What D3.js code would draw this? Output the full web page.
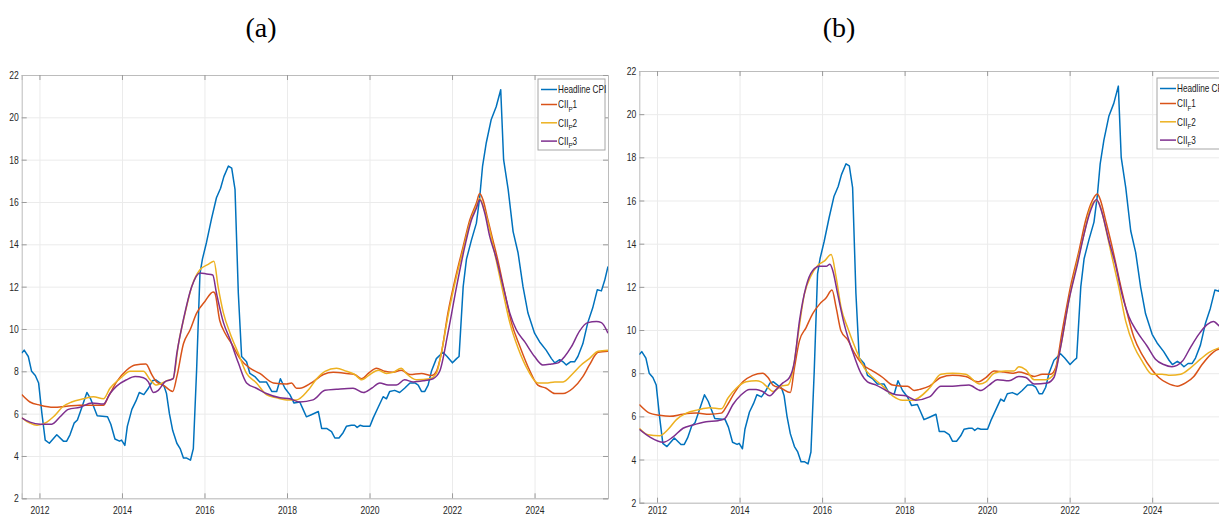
<!DOCTYPE html>
<html>
<head>
<meta charset="utf-8">
<script src="https://cdn.jsdelivr.net/npm/d3@7"></script>
<style>
  body { margin: 0; background: #fff; }
  svg { display: block; }
  .tick text { font-family: "Liberation Sans", Arial, sans-serif; font-size: 11px; fill: #262626; }
  .legend text { font-family: "Liberation Sans", Arial, sans-serif; font-size: 10.5px; fill: #1a1a1a; }
  .panel-title { font-family: "Liberation Serif", "Times New Roman", serif; font-size: 28px; fill: #000; }
</style>
</head>
<body>
<svg id="chart" width="1219" height="517"></svg>
<script>

// headline cpi (same in both panels), [decimal year, %]
const headlineCPI = [
  [2011.57, 8.86], [2011.63, 9.0], [2011.73, 8.7], [2011.81, 8.0], [2011.9, 7.8], [2011.98, 7.45],
  [2012.06, 6.0], [2012.14, 4.75], [2012.24, 4.6], [2012.42, 5.0], [2012.58, 4.7], [2012.66, 4.7],
  [2012.74, 5.0], [2012.84, 5.55], [2012.92, 5.7], [2013.01, 6.2], [2013.15, 7.0], [2013.24, 6.7],
  [2013.4, 5.9], [2013.65, 5.85], [2013.73, 5.5], [2013.83, 4.8], [2013.94, 4.7], [2013.99, 4.75],
  [2014.07, 4.5], [2014.13, 5.4], [2014.24, 6.2], [2014.34, 6.6], [2014.42, 7.0], [2014.53, 6.9],
  [2014.64, 7.2], [2014.74, 7.55], [2014.82, 7.6], [2014.92, 7.45], [2015.02, 7.3], [2015.08, 6.95],
  [2015.15, 6.0], [2015.23, 5.2], [2015.33, 4.6], [2015.41, 4.35], [2015.49, 3.9], [2015.57, 3.9],
  [2015.66, 3.8], [2015.73, 4.35], [2015.81, 8.1], [2015.89, 12.6], [2015.95, 13.3], [2016.05, 14.1],
  [2016.17, 15.2], [2016.29, 16.2], [2016.39, 16.65], [2016.47, 17.2], [2016.58, 17.7], [2016.66, 17.6],
  [2016.74, 16.6], [2016.82, 11.7], [2016.9, 8.7], [2017.02, 8.45], [2017.1, 7.9], [2017.22, 7.75],
  [2017.34, 7.5], [2017.5, 7.5], [2017.63, 7.05], [2017.75, 7.05], [2017.84, 7.65], [2017.95, 7.2],
  [2018.07, 6.9], [2018.17, 6.5], [2018.31, 6.55], [2018.39, 6.2], [2018.47, 5.85], [2018.59, 5.95],
  [2018.76, 6.1], [2018.84, 5.3], [2018.96, 5.3], [2019.08, 5.15], [2019.16, 4.85], [2019.26, 4.85],
  [2019.36, 5.1], [2019.44, 5.4], [2019.56, 5.45], [2019.64, 5.45], [2019.7, 5.35], [2019.77, 5.45],
  [2019.85, 5.4], [2019.93, 5.4], [2020.01, 5.4], [2020.09, 5.8], [2020.21, 6.3], [2020.33, 6.8],
  [2020.41, 6.7], [2020.49, 7.05], [2020.61, 7.1], [2020.73, 7.0], [2020.85, 7.2], [2020.98, 7.45],
  [2021.1, 7.45], [2021.18, 7.35], [2021.26, 7.05], [2021.34, 7.05], [2021.42, 7.35], [2021.5, 8.0],
  [2021.62, 8.6], [2021.78, 8.9], [2021.88, 8.7], [2022.01, 8.4], [2022.11, 8.6], [2022.17, 8.7],
  [2022.27, 12.0], [2022.35, 13.3], [2022.47, 14.2], [2022.59, 15.0], [2022.67, 16.2], [2022.74, 17.7],
  [2022.83, 18.8], [2022.95, 19.9], [2023.07, 20.5], [2023.18, 21.3], [2023.25, 18.0], [2023.36, 16.6],
  [2023.48, 14.6], [2023.6, 13.6], [2023.72, 12.0], [2023.84, 10.75], [2024.0, 9.8], [2024.12, 9.4],
  [2024.28, 9.0], [2024.41, 8.6], [2024.49, 8.4], [2024.61, 8.55], [2024.69, 8.45], [2024.77, 8.3],
  [2024.87, 8.45], [2024.97, 8.45], [2025.05, 8.7], [2025.17, 9.3], [2025.29, 10.3], [2025.41, 11.0],
  [2025.52, 11.85], [2025.62, 11.8], [2025.7, 12.3], [2025.78, 12.95]
];

// panel (a): CII_P series
const ciiP1 = [
  [2011.57, 6.9], [2011.77, 6.55], [2012.02, 6.4], [2012.34, 6.3], [2012.66, 6.35], [2012.98, 6.4],
  [2013.31, 6.4], [2013.55, 6.4], [2013.67, 6.8], [2013.87, 7.5], [2014.11, 8.05], [2014.32, 8.3],
  [2014.58, 8.35], [2014.72, 7.85], [2014.84, 7.5], [2015.0, 7.35], [2015.23, 7.05], [2015.33, 7.75],
  [2015.49, 9.3], [2015.65, 9.95], [2015.81, 10.75], [2016.01, 11.3], [2016.21, 11.75], [2016.25, 11.7],
  [2016.37, 10.4], [2016.5, 9.8], [2016.66, 9.3], [2016.86, 8.6], [2017.1, 8.15], [2017.34, 7.9],
  [2017.67, 7.45], [2017.99, 7.4], [2018.11, 7.45], [2018.23, 7.2], [2018.31, 7.2], [2018.59, 7.45],
  [2018.88, 7.85], [2019.12, 7.95], [2019.44, 7.9], [2019.64, 7.85], [2019.81, 7.65], [2019.97, 7.9],
  [2020.17, 8.15], [2020.37, 8.0], [2020.57, 7.95], [2020.77, 8.05], [2020.98, 7.85], [2021.26, 7.9],
  [2021.5, 7.8], [2021.62, 8.0], [2021.74, 8.85], [2021.9, 10.75], [2022.11, 12.65], [2022.27, 13.9],
  [2022.43, 15.15], [2022.59, 15.95], [2022.67, 16.4], [2022.75, 16.1], [2022.87, 15.15], [2022.99, 14.2],
  [2023.11, 13.25], [2023.28, 11.7], [2023.44, 10.3], [2023.64, 9.2], [2023.88, 8.05], [2024.08, 7.35],
  [2024.28, 7.2], [2024.49, 6.95], [2024.69, 6.95], [2024.93, 7.2], [2025.17, 7.75], [2025.33, 8.3],
  [2025.54, 8.9], [2025.78, 8.95]
];
const ciiP2 = [
  [2011.57, 5.8], [2011.77, 5.55], [2011.94, 5.45], [2012.18, 5.6], [2012.34, 5.85], [2012.58, 6.35],
  [2012.78, 6.55], [2013.07, 6.7], [2013.31, 6.8], [2013.55, 6.7], [2013.71, 7.2], [2013.95, 7.65],
  [2014.2, 8.0], [2014.52, 8.0], [2014.68, 7.6], [2014.84, 7.35], [2015.08, 7.55], [2015.24, 7.65],
  [2015.37, 9.3], [2015.53, 10.75], [2015.69, 12.0], [2015.89, 12.8], [2016.09, 13.05], [2016.23, 13.2],
  [2016.33, 12.0], [2016.46, 10.75], [2016.62, 9.8], [2016.82, 8.85], [2017.02, 7.9], [2017.26, 7.45],
  [2017.5, 6.9], [2017.75, 6.75], [2017.99, 6.65], [2018.23, 6.65], [2018.51, 7.1], [2018.72, 7.65],
  [2018.92, 8.0], [2019.2, 8.15], [2019.44, 8.0], [2019.64, 7.85], [2019.81, 7.6], [2020.01, 7.85],
  [2020.21, 8.05], [2020.41, 7.9], [2020.57, 7.95], [2020.77, 8.15], [2020.89, 7.9], [2021.14, 7.6],
  [2021.46, 7.65], [2021.62, 7.9], [2021.74, 8.85], [2021.9, 10.6], [2022.11, 12.5], [2022.27, 13.75],
  [2022.43, 15.0], [2022.59, 15.8], [2022.67, 16.15], [2022.79, 15.6], [2022.91, 14.7], [2023.07, 13.25],
  [2023.24, 11.7], [2023.4, 10.3], [2023.6, 9.1], [2023.84, 8.05], [2024.08, 7.45], [2024.28, 7.45],
  [2024.49, 7.5], [2024.69, 7.5], [2024.93, 7.9], [2025.13, 8.3], [2025.33, 8.6], [2025.54, 8.95],
  [2025.78, 9.0]
];
const ciiP3 = [
  [2011.57, 5.8], [2011.77, 5.6], [2012.02, 5.5], [2012.3, 5.5], [2012.5, 5.85], [2012.7, 6.2],
  [2012.98, 6.3], [2013.27, 6.5], [2013.55, 6.45], [2013.71, 6.95], [2013.87, 7.3], [2014.11, 7.6],
  [2014.32, 7.75], [2014.52, 7.7], [2014.64, 7.5], [2014.76, 7.0], [2014.88, 7.1], [2015.04, 7.5],
  [2015.24, 7.65], [2015.33, 8.85], [2015.49, 10.45], [2015.69, 12.0], [2015.89, 12.65], [2016.05, 12.6],
  [2016.2, 12.55], [2016.29, 11.7], [2016.46, 10.3], [2016.62, 9.5], [2016.82, 8.4], [2017.02, 7.45],
  [2017.26, 7.2], [2017.5, 6.95], [2017.83, 6.75], [2018.07, 6.7], [2018.31, 6.55], [2018.63, 6.65],
  [2018.92, 7.1], [2019.2, 7.15], [2019.6, 7.2], [2019.85, 7.0], [2020.05, 7.2], [2020.25, 7.45],
  [2020.45, 7.35], [2020.65, 7.35], [2020.85, 7.6], [2021.06, 7.5], [2021.3, 7.55], [2021.54, 7.65],
  [2021.7, 8.0], [2021.9, 9.8], [2022.11, 12.0], [2022.31, 13.9], [2022.47, 15.15], [2022.59, 15.7],
  [2022.67, 16.1], [2022.79, 15.5], [2022.91, 14.4], [2023.07, 13.35], [2023.24, 12.0], [2023.4, 10.75],
  [2023.56, 9.95], [2023.76, 9.4], [2024.0, 8.7], [2024.2, 8.3], [2024.41, 8.35], [2024.57, 8.4],
  [2024.73, 8.7], [2024.89, 9.15], [2025.09, 9.9], [2025.29, 10.3], [2025.5, 10.35], [2025.62, 10.3],
  [2025.78, 9.8]
];

// panel (b): CII_F series
const ciiF1 = [
  [2011.57, 6.55], [2011.82, 6.15], [2012.06, 6.05], [2012.31, 6.0], [2012.63, 6.1], [2012.95, 6.15],
  [2013.27, 6.1], [2013.56, 6.15], [2013.68, 6.45], [2013.88, 7.1], [2014.08, 7.6], [2014.32, 7.9],
  [2014.56, 8.0], [2014.69, 7.8], [2014.81, 7.45], [2015.01, 7.3], [2015.23, 7.1], [2015.33, 8.25],
  [2015.45, 9.5], [2015.61, 10.1], [2015.77, 10.75], [2015.94, 11.2], [2016.1, 11.5], [2016.24, 11.85],
  [2016.34, 11.05], [2016.46, 9.95], [2016.62, 9.55], [2016.78, 8.95], [2016.98, 8.4], [2017.23, 8.1],
  [2017.47, 7.8], [2017.71, 7.45], [2017.95, 7.4], [2018.07, 7.4], [2018.23, 7.2], [2018.36, 7.25],
  [2018.6, 7.4], [2018.88, 7.8], [2019.16, 7.9], [2019.48, 7.85], [2019.77, 7.6], [2019.97, 7.8],
  [2020.17, 8.1], [2020.41, 8.05], [2020.61, 8.0], [2020.77, 8.05], [2020.98, 7.95], [2021.14, 7.85],
  [2021.34, 7.95], [2021.54, 7.95], [2021.66, 8.25], [2021.82, 9.95], [2022.02, 12.0], [2022.23, 13.7],
  [2022.39, 15.1], [2022.55, 16.0], [2022.67, 16.3], [2022.75, 16.0], [2022.87, 15.1], [2023.03, 13.85],
  [2023.19, 12.45], [2023.36, 11.05], [2023.56, 9.65], [2023.76, 8.85], [2024.0, 8.15], [2024.16, 7.8],
  [2024.36, 7.55], [2024.61, 7.4], [2024.81, 7.55], [2025.01, 7.85], [2025.21, 8.4], [2025.41, 8.85],
  [2025.59, 9.1], [2025.78, 9.15]
];
const ciiF2 = [
  [2011.57, 5.45], [2011.78, 5.15], [2012.06, 5.1], [2012.27, 5.4], [2012.47, 5.85], [2012.71, 6.15],
  [2012.99, 6.3], [2013.27, 6.4], [2013.56, 6.35], [2013.72, 6.85], [2013.92, 7.3], [2014.16, 7.6],
  [2014.4, 7.65], [2014.52, 7.6], [2014.65, 7.4], [2014.81, 7.15], [2015.01, 7.4], [2015.17, 7.45],
  [2015.29, 8.1], [2015.41, 9.65], [2015.57, 11.65], [2015.73, 12.5], [2015.9, 13.0], [2016.06, 13.2],
  [2016.22, 13.5], [2016.34, 12.45], [2016.46, 11.05], [2016.62, 10.1], [2016.82, 9.1], [2017.02, 8.25],
  [2017.23, 7.8], [2017.47, 7.4], [2017.71, 6.95], [2017.95, 6.75], [2018.19, 6.75], [2018.6, 7.3],
  [2018.88, 7.95], [2019.16, 8.0], [2019.48, 7.95], [2019.81, 7.5], [2019.97, 7.6], [2020.17, 8.0],
  [2020.45, 8.1], [2020.65, 8.1], [2020.77, 8.3], [2020.94, 8.15], [2021.14, 7.7], [2021.42, 7.7],
  [2021.62, 7.95], [2021.78, 9.2], [2021.98, 11.35], [2022.19, 13.2], [2022.35, 14.45], [2022.51, 15.7],
  [2022.65, 16.0], [2022.75, 15.7], [2022.87, 14.75], [2023.03, 13.35], [2023.19, 12.0], [2023.36, 10.4],
  [2023.56, 9.25], [2023.76, 8.55], [2024.0, 7.95], [2024.24, 7.95], [2024.44, 7.9], [2024.69, 7.95],
  [2024.93, 8.25], [2025.17, 8.65], [2025.37, 8.95], [2025.59, 9.15], [2025.78, 9.2]
];
const ciiF3 = [
  [2011.57, 5.4], [2011.82, 5.05], [2012.15, 4.8], [2012.39, 5.05], [2012.63, 5.45], [2012.87, 5.6],
  [2013.19, 5.75], [2013.48, 5.8], [2013.64, 5.9], [2013.84, 6.55], [2014.04, 7.0], [2014.24, 7.25],
  [2014.4, 7.25], [2014.56, 7.15], [2014.73, 6.95], [2014.89, 7.25], [2015.05, 7.55], [2015.21, 7.8],
  [2015.33, 8.55], [2015.45, 10.4], [2015.61, 12.0], [2015.77, 12.75], [2015.94, 12.95], [2016.1, 12.95],
  [2016.19, 13.05], [2016.26, 12.75], [2016.38, 11.65], [2016.54, 10.25], [2016.74, 9.0], [2016.94, 8.0],
  [2017.1, 7.6], [2017.31, 7.45], [2017.55, 7.2], [2017.79, 7.0], [2018.03, 6.95], [2018.27, 6.75],
  [2018.6, 6.9], [2018.88, 7.4], [2019.16, 7.4], [2019.56, 7.45], [2019.85, 7.2], [2020.05, 7.45],
  [2020.25, 7.7], [2020.53, 7.65], [2020.77, 7.85], [2020.94, 7.8], [2021.14, 7.5], [2021.46, 7.55],
  [2021.62, 7.8], [2021.78, 9.2], [2021.98, 11.35], [2022.19, 13.05], [2022.35, 14.45], [2022.51, 15.55],
  [2022.65, 16.05], [2022.79, 15.4], [2022.95, 14.15], [2023.11, 13.05], [2023.27, 11.65], [2023.44, 10.6],
  [2023.64, 9.9], [2023.88, 9.25], [2024.08, 8.65], [2024.28, 8.4], [2024.48, 8.3], [2024.73, 8.55],
  [2024.93, 9.2], [2025.13, 9.8], [2025.33, 10.25], [2025.49, 10.4], [2025.59, 10.25], [2025.78, 9.9]
];

// axis ticks, legend labels, colors
const xTickYears = [2012, 2014, 2016, 2018, 2020, 2022, 2024];
const yTickValues = [2, 4, 6, 8, 10, 12, 14, 16, 18, 20, 22];
const legendLabelsP = ['Headline CPI', 'CII_P1', 'CII_P2', 'CII_P3'];
const legendLabelsF = ['Headline CPI', 'CII_F1', 'CII_F2', 'CII_F3'];
const seriesColors = ['#0072BD', '#D95319', '#EDB120', '#7E2F8E'];

// the figure was squeezed horizontally, so all small text gets narrowed
const TEXT_SQUEEZE = 0.78;


/**
 * one matlab-style line panel
 */
class CpiPanel {

  constructor(_config, _series, _labels) {
    this.config = _config;
    this.series = _series;
    this.labels = _labels;
    this.initVis();
  }

  initVis() {
    let vis = this;
    const cfg = vis.config;
    const svg = d3.select('#chart');

    // panel title above the axes
    svg.append('text')
      .attr('class', 'panel-title')
      .attr('x', cfg.titleX)
      .attr('y', 37)
      .attr('text-anchor', 'middle')
      .text(cfg.title);

    vis.g = svg.append('g').attr('transform', `translate(${cfg.left},${cfg.top})`);

    vis.x = d3.scaleLinear().domain([2011.57, 2025.78]).range([0, cfg.width]);
    vis.y = d3.scaleLinear().domain([2, 22]).range([cfg.height, 0]);

    // light grid first
    vis.g.append('g')
      .attr('class', 'grid')
      .attr('transform', `translate(0,${cfg.height})`)
      .call(d3.axisBottom(vis.x).tickValues(xTickYears).tickSize(-cfg.height).tickFormat(''));
    vis.g.append('g')
      .attr('class', 'grid')
      .call(d3.axisLeft(vis.y).tickValues(yTickValues).tickSize(-cfg.width).tickFormat(''));
    vis.g.selectAll('.grid .domain').remove();
    vis.g.selectAll('.grid line').attr('stroke', '#ebebeb').attr('stroke-width', 1);

    // axes with inward ticks, box on
    const xAxis = vis.g.append('g')
      .attr('transform', `translate(0,${cfg.height})`)
      .call(d3.axisBottom(vis.x).tickValues(xTickYears).tickSize(-5).tickPadding(cfg.xLabelPad).tickFormat(d3.format('d')));
    const yAxis = vis.g.append('g')
      .call(d3.axisLeft(vis.y).tickValues(yTickValues).tickSize(-5).tickPadding(3));
    const topAxis = vis.g.append('g')
      .call(d3.axisTop(vis.x).tickValues(xTickYears).tickSize(-5).tickFormat(''));
    const rightAxis = vis.g.append('g')
      .attr('transform', `translate(${cfg.width},0)`)
      .call(d3.axisRight(vis.y).tickValues(yTickValues).tickSize(-5).tickFormat(''));
    [xAxis, yAxis, topAxis, rightAxis].forEach(a => {
      a.select('.domain').attr('stroke', '#bcbcbc');
      a.selectAll('.tick line').attr('stroke', '#9a9a9a');
    });

    // narrow the tick labels around their anchor
    xAxis.selectAll('.tick text').attr('transform', `scale(${TEXT_SQUEEZE},1)`);
    yAxis.selectAll('.tick text')
      .attr('x', -3 / TEXT_SQUEEZE)
      .attr('transform', `scale(${TEXT_SQUEEZE},1)`);

    // clip lines to the plotting area
    const clipId = 'clip-' + cfg.title.replace(/\W/g, '');
    vis.g.append('clipPath').attr('id', clipId)
      .append('rect').attr('width', cfg.width).attr('height', cfg.height);

    vis.lineSharp = d3.line().x(d => vis.x(d[0])).y(d => vis.y(d[1]));
    vis.lineSmooth = d3.line().x(d => vis.x(d[0])).y(d => vis.y(d[1])).curve(d3.curveMonotoneX);

    vis.g.append('g')
      .attr('clip-path', `url(#${clipId})`)
      .selectAll('path')
      .data(vis.series)
      .join('path')
      .attr('fill', 'none')
      .attr('stroke', (d, i) => seriesColors[i])
      .attr('stroke-width', 1.5)
      .attr('stroke-linejoin', 'round')
      .attr('d', (d, i) => i === 0 ? vis.lineSharp(d) : vis.lineSmooth(d));

    vis.drawLegend();
  }

  drawLegend() {
    let vis = this;
    const cfg = vis.config;
    const lg = d3.select('#chart').append('g')
      .attr('class', 'legend')
      .attr('transform', `translate(${cfg.legendX},${cfg.legendY})`);

    lg.append('rect')
      .attr('width', 67).attr('height', 71)
      .attr('fill', '#fff')
      .attr('stroke', '#a6a6a6');

    // headline row is shorter than the subscripted rows
    const rowY = i => i === 0 ? 10.5 : 25.5 + (i - 1) * 18.3;

    vis.labels.forEach((label, i) => {
      lg.append('line')
        .attr('x1', 3).attr('x2', 19)
        .attr('y1', rowY(i)).attr('y2', rowY(i))
        .attr('stroke', seriesColors[i]).attr('stroke-width', 1.5);

      const t = lg.append('g')
        .attr('transform', `translate(20,${rowY(i) + 3.8}) scale(${TEXT_SQUEEZE},1)`)
        .append('text');
      const m = label.match(/^CII_(\w)(\d)$/);
      if (m) {
        t.append('tspan').text('CII');
        t.append('tspan').attr('dy', 3.5).style('font-size', '8px').text(m[1]);
        t.append('tspan').attr('dy', -3.5).text(m[2]);
      } else {
        t.text(label);
      }
    });
  }
}

new CpiPanel(
  { title: '(a)', titleX: 261, left: 21.7, top: 75, width: 586.3, height: 423.3, xLabelPad: 8,
    legendX: 538, legendY: 79 },
  [headlineCPI, ciiP1, ciiP2, ciiP3], legendLabelsP);

new CpiPanel(
  { title: '(b)', titleX: 839, left: 639.3, top: 71, width: 586.3, height: 431.7, xLabelPad: 4,
    legendX: 1157, legendY: 78 },
  [headlineCPI, ciiF1, ciiF2, ciiF3], legendLabelsF);

</script>
</body>
</html>
